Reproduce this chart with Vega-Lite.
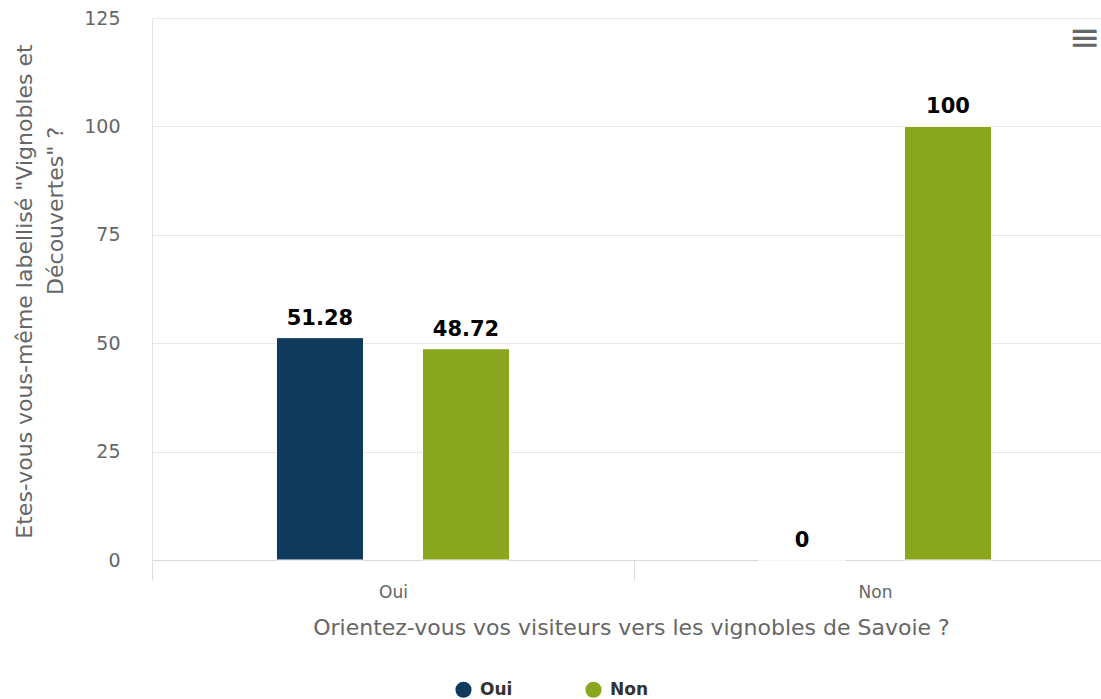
{
  "$schema": "https://vega.github.io/schema/vega-lite/v6.json",
  "width": 949,
  "height": 542,
  "autosize": {"type": "none"},
  "padding": {"left": 152, "top": 18, "right": 0, "bottom": 139},
  "background": "white",
  "config": {
    "view": {"stroke": null},
    "font": "DejaVu Sans"
  },
  "title": {
    "text": "≡",
    "orient": "top",
    "anchor": "end",
    "fontSize": 38,
    "fontWeight": "normal",
    "color": "#666666",
    "offset": -49,
    "dx": -16
  },
  "data": {
    "values": [
      {"cat": "Oui", "series": "Oui", "value": 51.28},
      {"cat": "Oui", "series": "Non", "value": 48.72},
      {"cat": "Non", "series": "Oui", "value": 0},
      {"cat": "Non", "series": "Non", "value": 100}
    ]
  },
  "encoding": {
    "x": {
      "field": "cat",
      "type": "nominal",
      "sort": ["Oui", "Non"],
      "scale": {"range": [0, 964], "paddingInner": 0, "paddingOuter": 0},
      "title": "Orientez-vous vos visiteurs vers les vignobles de Savoie ?",
      "axis": {
        "labelAngle": 0,
        "labelFontSize": 17,
        "labelColor": "#666666",
        "labelPadding": 4,
        "tickBand": "extent",
        "ticks": true,
        "tickSize": 20,
        "tickColor": "#dddddd",
        "domainColor": "#d8d8d8",
        "grid": false,
        "titleFontSize": 22,
        "titleFontWeight": "normal",
        "titleColor": "#666666",
        "titleY": 67,
        "titleBaseline": "middle",
        "titleX": 479
      }
    },
    "xOffset": {
      "field": "series",
      "sort": ["Oui", "Non"],
      "scale": {"paddingInner": 0.404, "paddingOuter": 0.852}
    },
    "y": {
      "field": "value",
      "type": "quantitative",
      "scale": {"domain": [0, 125], "nice": false},
      "title": ["Etes-vous vous-même labellisé \"Vignobles et", "\u2800\u2800\u2800\u2800\u2800\u2800\u2800\u2800\u2800\u2800Découvertes\" ?"],
      "axis": {
        "values": [0, 25, 50, 75, 100, 125],
        "ticks": false,
        "labelFontSize": 19,
        "labelColor": "#666666",
        "labelPadding": 32,
        "gridColor": "#e8e8e8",
        "domain": true,
        "domainColor": "#e3e3e3",
        "titleFontSize": 22,
        "titleFontWeight": "normal",
        "titleColor": "#666666",
        "titleLineHeight": 31,
        "titleAngle": -90,
        "titleBaseline": "alphabetic",
        "titleX": -121,
        "titleY": 273,
        "titleAlign": "center"
      }
    }
  },
  "layer": [
    {
      "mark": {"type": "bar", "stroke": "white", "strokeWidth": 1},
      "encoding": {
        "color": {
          "field": "series",
          "type": "nominal",
          "sort": ["Oui", "Non"],
          "scale": {"domain": ["Oui", "Non"], "range": ["#0f3a5b", "#8aa61f"]},
          "legend": {
            "title": null,
            "orient": "none",
            "direction": "horizontal",
            "legendX": 303,
            "legendY": 663,
            "symbolType": "circle",
            "symbolSize": 260,
            "symbolStrokeWidth": 0,
            "labelFontSize": 17,
            "labelFontWeight": "bold",
            "labelColor": "#333333",
            "labelOffset": 8,
            "columnPadding": 72,
            "padding": 0
          }
        }
      }
    },
    {
      "mark": {"type": "text", "baseline": "middle", "dy": -19, "fontSize": 21, "fontWeight": "bold", "color": "#000000"},
      "encoding": {
        "text": {"field": "value", "type": "quantitative", "format": ".4~r"}
      }
    }
  ]
}
